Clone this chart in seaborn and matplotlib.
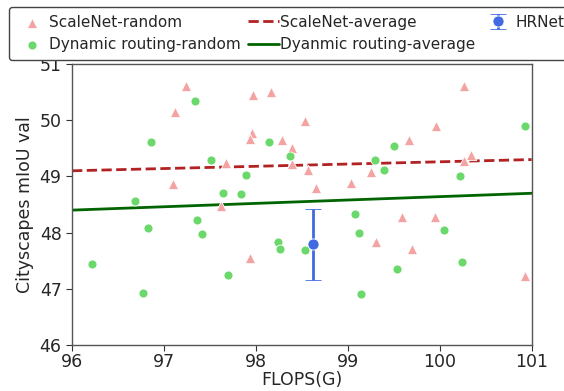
import matplotlib
matplotlib.use("Agg")
import matplotlib.pyplot as plt
import seaborn as sns
import numpy as np
import pandas as pd

# ScaleNet random samples (FLOPS, mIoU)
scalenet_flops = [97.24, 97.12, 97.97, 98.16, 98.53, 97.96, 97.94, 98.28, 98.39, 98.39,
                  98.57, 97.68, 97.10, 97.62, 97.94, 100.26, 99.96, 99.67, 100.34, 100.26,
                  99.25, 98.65, 99.04, 99.59, 99.95, 99.31, 99.70, 100.93]
scalenet_miou = [50.61, 50.14, 50.45, 50.51, 49.99, 49.78, 49.67, 49.65, 49.50, 49.22,
                 49.11, 49.24, 48.86, 48.47, 47.54, 50.61, 49.90, 49.65, 49.38, 49.27,
                 49.08, 48.80, 48.88, 48.27, 48.28, 47.84, 47.71, 47.23]

# Dynamic routing random samples
dyn_flops = [97.34, 96.86, 98.14, 97.51, 98.37, 97.89, 97.64, 97.84, 96.68, 97.36,
             96.83, 97.41, 98.24, 98.26, 98.53, 96.22, 97.70, 96.77, 100.93, 99.50,
             99.30, 99.39, 100.22, 99.08, 100.05, 99.12, 100.24, 99.54, 99.14]
dyn_miou = [50.35, 49.62, 49.62, 49.29, 49.36, 49.02, 48.70, 48.69, 48.56, 48.22,
            48.08, 47.97, 47.83, 47.71, 47.69, 47.44, 47.25, 46.92, 49.89, 49.55,
            49.29, 49.11, 49.00, 48.33, 48.05, 47.99, 47.47, 47.36, 46.91]

# Average lines
avg_flops = [96, 101]
scalenet_avg = [49.10, 49.30]
dyn_avg = [48.40, 48.70]

# HRNet
hrnet_flops = [98.62]
hrnet_miou = [47.79]
hrnet_err = [0.63]

sns.set_style("ticks")
plt.rcParams['font.family'] = ['DejaVu Sans']

fig = plt.figure(figsize=(5.64, 3.91), dpi=100)
ax = fig.add_axes([0.1277, 0.1176, 0.815, 0.7187])

sns.scatterplot(x=scalenet_flops, y=scalenet_miou, marker="^", color="#f4a3a3",
                s=55, edgecolor="white", linewidth=0.6, ax=ax, label="ScaleNet-random", zorder=3)
sns.scatterplot(x=dyn_flops, y=dyn_miou, marker="o", color="#6ad86a",
                s=42, edgecolor="white", linewidth=0.6, ax=ax, label="Dynamic routing-random", zorder=3)
sns.lineplot(x=avg_flops, y=scalenet_avg, color="#b22222", linestyle="--", linewidth=2,
             ax=ax, label="ScaleNet-average", zorder=2)
sns.lineplot(x=avg_flops, y=dyn_avg, color="#006400", linestyle="-", linewidth=2,
             ax=ax, label="Dyanmic routing-average", zorder=2)
ax.errorbar(hrnet_flops, hrnet_miou, yerr=hrnet_err, fmt="o", color="#4169e1",
            markersize=8, markeredgecolor="white", markeredgewidth=0.6,
            capsize=6, elinewidth=2, capthick=1.5, label="HRNet", zorder=4)

ax.set_xlim(96, 101)
ax.set_ylim(46, 51)
ax.set_xticks([96, 97, 98, 99, 100, 101])
ax.set_yticks([46, 47, 48, 49, 50, 51])
ax.tick_params(labelsize=12.5, length=4, color="#333333")
ax.tick_params(axis="x", pad=2)
ax.set_xlabel("FLOPS(G)", fontsize=12.5, labelpad=0)
ax.set_ylabel("Cityscapes mIoU val", fontsize=12.5)
for sp in ax.spines.values():
    sp.set_visible(True)
    sp.set_color("#555555")
    sp.set_linewidth(1.0)

handles, labels = ax.get_legend_handles_labels()
ax.get_legend().remove()
order = ["ScaleNet-random", "Dynamic routing-random", "ScaleNet-average",
         "Dyanmic routing-average", "HRNet"]
hmap = dict(zip(labels, handles))
leg = fig.legend([hmap[k] for k in order], order, loc="upper left",
                 bbox_to_anchor=(0.016, 0.982), ncol=3, fontsize=11,
                 handletextpad=0.1, columnspacing=0.5, handlelength=2,
                 borderpad=0.5,
                 frameon=True, fancybox=True, edgecolor="#444444", framealpha=1,
                 borderaxespad=0)
leg.get_frame().set_linewidth(1.0)

fig.savefig("out.png", dpi=100)
